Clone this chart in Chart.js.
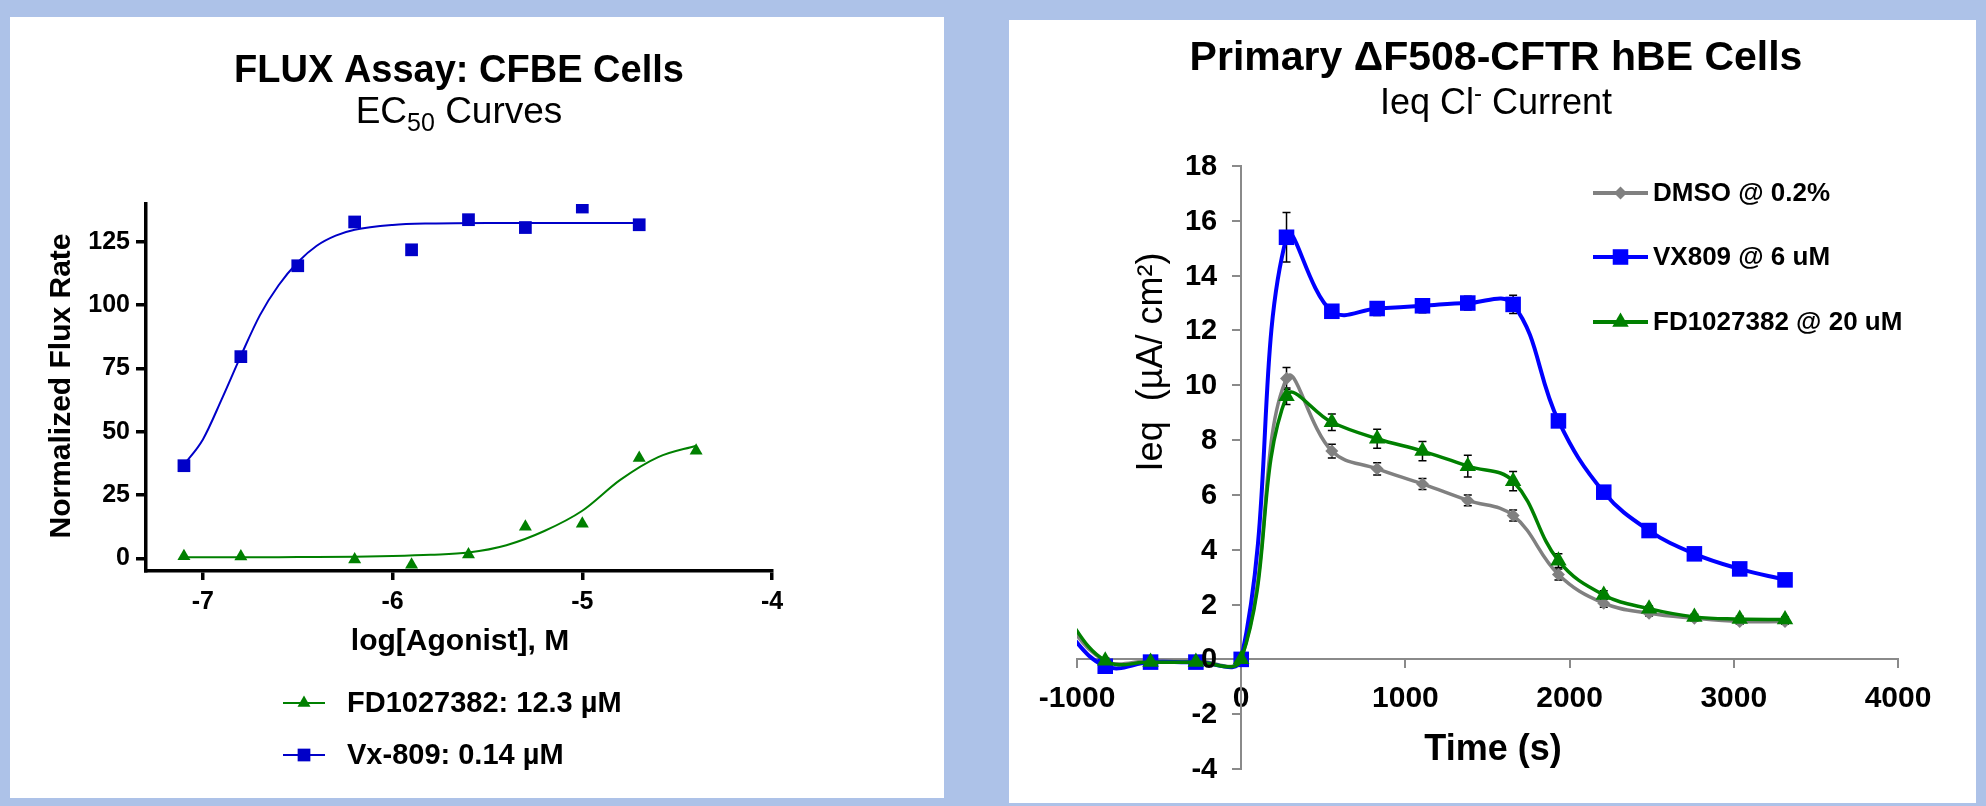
<!DOCTYPE html>
<html>
<head>
<meta charset="utf-8">
<script src="https://cdn.jsdelivr.net/npm/chart.js@4.4.0/dist/chart.umd.min.js"></script>
<style>
  html, body { margin: 0; padding: 0; }
  body { width: 1986px; height: 806px; background: #adc2e8; position: relative; overflow: hidden; }
  .panel { position: absolute; background: #fff; }
  #panelFlux { left: 10px; top: 17px; width: 934px; height: 781px; }
  #panelIeq { left: 1009px; top: 20px; width: 967px; height: 783px; }
  canvas { display: block; }
</style>
</head>
<body>
<div class="panel" id="panelFlux"><canvas id="fluxChart" width="934" height="781"></canvas></div>
<div class="panel" id="panelIeq"><canvas id="ieqChart" width="967" height="783"></canvas></div>
<script>
// ---- left panel: FLUX assay ----
const fluxTicksX = [-7, -6, -5, -4];
const fluxTicksY = [0, 25, 50, 75, 100, 125];
const vxLogConc = [-7.1, -6.8, -6.5, -6.2, -5.9, -5.6, -5.3, -5.0, -4.7];
const vxFlux = [36.6, 79.7, 115.6, 132.9, 121.9, 133.8, 130.7, 138.8, 131.8];
const fdLogConc = [-7.1, -6.8, -6.2, -5.9, -5.6, -5.3, -5.0, -4.7, -4.4];
const fdFlux = [0.8, 0.7, -0.5, -2.5, 1.5, 12.5, 13.7, 39.6, 42.5];
// fitted curves
const vxFitX = [-7.1, -7.0, -6.9, -6.8, -6.7, -6.6, -6.5, -6.4, -6.3, -6.2, -6.0, -5.8, -5.5, -5.0, -4.7];
const vxFitY = [37, 47, 63, 80, 96, 108, 117, 123.5, 127.5, 129.8, 131.7, 132.3, 132.5, 132.5, 132.5];
const fdFitX = [-7.1, -6.8, -6.5, -6.2, -6.0, -5.8, -5.6, -5.4, -5.2, -5.0, -4.8, -4.6, -4.4];
const fdFitY = [0.4, 0.4, 0.5, 0.6, 0.9, 1.4, 2.3, 5.2, 10.8, 18.8, 31, 40, 44.5];

// ---- right panel: Ieq current ----
const timeS = [-1104, -828, -552, -276, 0, 276, 552, 828, 1104, 1380, 1656, 1932, 2208, 2484, 2760, 3036, 3312];
const dmsoIeq = [1.6, -0.05, -0.05, -0.05, 0, 10.25, 7.6, 6.95, 6.4, 5.8, 5.25, 3.1, 2.05, 1.68, 1.5, 1.38, 1.38];
const vx809Ieq = [1.3, -0.25, -0.1, -0.1, 0, 15.4, 12.7, 12.8, 12.9, 13.0, 12.95, 8.7, 6.1, 4.7, 3.85, 3.3, 2.9];
const fdIeq = [1.9, -0.05, -0.1, -0.1, 0, 9.6, 8.65, 8.05, 7.6, 7.05, 6.5, 3.6, 2.35, 1.85, 1.55, 1.47, 1.45];
const dmsoErr = [0, 0.1, 0.1, 0.1, 0.1, 0.4, 0.25, 0.22, 0.2, 0.2, 0.2, 0.2, 0.15, 0.1, 0.1, 0.1, 0.1];
const vx809Err = [0, 0.1, 0.1, 0.1, 0.1, 0.9, 0.2, 0.25, 0.25, 0.25, 0.33, 0.2, 0.15, 0.1, 0.1, 0.1, 0.1];
const fdErr = [0, 0.1, 0.1, 0.1, 0.1, 0.3, 0.3, 0.35, 0.35, 0.4, 0.35, 0.25, 0.15, 0.1, 0.1, 0.1, 0.1];
const timeTicks = [-1000, 0, 1000, 2000, 3000, 4000];
const ieqTicks = [-4, -2, 0, 2, 4, 6, 8, 10, 12, 14, 16, 18];

const FONT = '"Liberation Sans", Arial, sans-serif';
Chart.defaults.font.family = FONT;

function pts(xs, ys) {
    return xs.map((x, i) => ({ x: x, y: ys[i] }));
}

// draw a run of text pieces centered on cx (pieces: [text, font, dy])
function drawRuns(ctx, cx, baseline, runs) {
    let total = 0;
    runs.forEach(r => { ctx.font = r[1]; total += ctx.measureText(r[0]).width; });
    ctx.save();
    ctx.textAlign = 'left';
    ctx.textBaseline = 'alphabetic';
    ctx.fillStyle = '#000';
    let x = cx - total / 2;
    runs.forEach(r => {
        ctx.font = r[1];
        ctx.fillText(r[0], x, baseline + (r[2] || 0));
        x += ctx.measureText(r[0]).width;
    });
    ctx.restore();
}

function legendRow(ctx, x1, x2, gap, y, color, lineW, style, radius, label, font) {
    ctx.save();
    ctx.strokeStyle = color;
    ctx.lineWidth = lineW;
    ctx.beginPath();
    ctx.moveTo(x1, y);
    ctx.lineTo(x2, y);
    ctx.stroke();
    ctx.fillStyle = color;
    Chart.helpers.drawPoint(ctx, { pointStyle: style, radius: radius, rotation: 0, borderWidth: 0 }, (x1 + x2) / 2, y);
    ctx.fillStyle = '#000';
    ctx.font = font;
    ctx.textAlign = 'left';
    ctx.textBaseline = 'middle';
    ctx.fillText(label, x2 + gap, y + 1);
    ctx.restore();
}

const fluxText = {
    id: 'fluxText',
    afterDraw(chart) {
        const ctx = chart.ctx;
        drawRuns(ctx, 449, 65, [['FLUX Assay: CFBE Cells', 'bold 38px ' + FONT]]);
        drawRuns(ctx, 449, 106, [['EC', '37px ' + FONT], ['50', '25px ' + FONT, 8], [' Curves', '37px ' + FONT]]);
        drawRuns(ctx, 450, 633, [['log[Agonist], M', 'bold 30px ' + FONT]]);
        ctx.save();
        ctx.translate(60, 369);
        ctx.rotate(-Math.PI / 2);
        drawRuns(ctx, 0, 0, [['Normalized Flux Rate', 'bold 30px ' + FONT]]);
        ctx.restore();
        legendRow(ctx, 273, 315, 22, 686, '#008000', 2, 'triangle', 7.5, 'FD1027382: 12.3 \u00b5M', 'bold 29px ' + FONT);
        legendRow(ctx, 273, 315, 22, 738, '#0000c8', 2, 'rect', 9, 'Vx-809: 0.14 \u00b5M', 'bold 29px ' + FONT);
    }
};

new Chart(document.getElementById('fluxChart'), {
    type: 'line',
    data: {
        datasets: [
            { data: pts(fdLogConc, fdFlux), showLine: false, pointStyle: 'triangle', pointRadius: 7.5, backgroundColor: '#008000', borderColor: '#008000', borderWidth: 0, order: 0 },
            { data: pts(vxLogConc, vxFlux), showLine: false, pointStyle: 'rect', pointRadius: 9, backgroundColor: '#0000c8', borderColor: '#0000c8', borderWidth: 0, order: 0 },
            { data: pts(fdFitX, fdFitY), pointRadius: 0, borderColor: '#008000', borderWidth: 2, cubicInterpolationMode: 'monotone', order: 1 },
            { data: pts(vxFitX, vxFitY), pointRadius: 0, borderColor: '#0000c8', borderWidth: 2, cubicInterpolationMode: 'monotone', order: 1 }
        ]
    },
    options: {
        responsive: false,
        animation: false,
        devicePixelRatio: 1,
        layout: { padding: { left: 56, top: 187, right: 172, bottom: 167 } },
        plugins: { legend: { display: false }, tooltip: { enabled: false } },
        scales: {
            x: {
                type: 'linear', position: 'bottom', min: -7.3, max: -4,
                afterBuildTicks: s => { s.ticks = fluxTicksX.map(v => ({ value: v })); },
                afterFit: s => { s.height = 60; },
                grid: { drawOnChartArea: false, tickLength: 9, lineWidth: 3.5, color: '#000' },
                border: { width: 3.5, color: '#000' },
                ticks: { font: { size: 25, weight: 'bold' }, color: '#000', padding: 7, maxRotation: 0, autoSkip: false, callback: v => String(v) }
            },
            y: {
                type: 'linear', position: 'left', min: -5, max: 140,
                afterBuildTicks: s => { s.ticks = fluxTicksY.map(v => ({ value: v })); },
                afterFit: s => { s.width = 80; },
                grid: { drawOnChartArea: false, tickLength: 10, lineWidth: 3.5, color: '#000' },
                border: { width: 3.5, color: '#000' },
                ticks: { font: { size: 25, weight: 'bold' }, color: '#000', padding: 6, autoSkip: false, callback: v => String(v) }
            }
        }
    },
    plugins: [fluxText]
});

const ieqErrors = [fdErr, vx809Err, dmsoErr];

const errorBars = {
    id: 'errorBars',
    beforeDatasetsDraw(chart) {
        const ctx = chart.ctx, xs = chart.scales.x, ys = chart.scales.y, a = chart.chartArea;
        ctx.save();
        ctx.beginPath();
        ctx.rect(a.left, a.top, a.right - a.left, a.bottom - a.top);
        ctx.clip();
        ctx.strokeStyle = '#000';
        ctx.lineWidth = 1.5;
        chart.data.datasets.forEach((ds, d) => {
            ieqErrors[d].forEach((e, i) => {
                if (!e) return;
                const p = ds.data[i];
                const px = xs.getPixelForValue(p.x);
                const yt = ys.getPixelForValue(p.y + e);
                const yb = ys.getPixelForValue(p.y - e);
                ctx.beginPath();
                ctx.moveTo(px, yt); ctx.lineTo(px, yb);
                ctx.moveTo(px - 4, yt); ctx.lineTo(px + 4, yt);
                ctx.moveTo(px - 4, yb); ctx.lineTo(px + 4, yb);
                ctx.stroke();
            });
        });
        ctx.restore();
    }
};

const ieqText = {
    id: 'ieqText',
    afterDraw(chart) {
        const ctx = chart.ctx;
        const ys = chart.scales.y;
        const axisX = chart.scales.x.getPixelForValue(0);
        // y tick labels sit left of the crossing axis
        ctx.save();
        ctx.font = 'bold 29px ' + FONT;
        ctx.fillStyle = '#000';
        ctx.textAlign = 'right';
        ctx.textBaseline = 'middle';
        ieqTicks.forEach(v => ctx.fillText(String(v), axisX - 24, ys.getPixelForValue(v) + 1));
        ctx.restore();

        drawRuns(ctx, 487, 50, [['Primary \u0394F508-CFTR hBE Cells', 'bold 41px ' + FONT]]);
        drawRuns(ctx, 487, 94, [['Ieq Cl', '36px ' + FONT], ['-', '24px ' + FONT, -13], [' Current', '36px ' + FONT]]);
        drawRuns(ctx, 484, 740, [['Time (s)', 'bold 36px ' + FONT]]);
        ctx.save();
        ctx.translate(153, 342);
        ctx.rotate(-Math.PI / 2);
        drawRuns(ctx, 0, 0, [['Ieq  (\u00b5A/ cm\u00b2)', '36px ' + FONT]]);
        ctx.restore();
        legendRow(ctx, 584, 639, 5, 173, '#808080', 4, 'rectRot', 6.5, 'DMSO @ 0.2%', 'bold 26px ' + FONT);
        legendRow(ctx, 584, 639, 5, 237, '#0000ff', 4, 'rect', 11, 'VX809 @ 6 uM', 'bold 26px ' + FONT);
        legendRow(ctx, 584, 639, 5, 302, '#008000', 4, 'triangle', 9.5, 'FD1027382 @ 20 uM', 'bold 26px ' + FONT);
    }
};

new Chart(document.getElementById('ieqChart'), {
    type: 'line',
    data: {
        datasets: [
            { label: 'FD1027382 @ 20 uM', data: pts(timeS, fdIeq), borderColor: '#008000', backgroundColor: '#008000', borderWidth: 3.5, pointStyle: 'triangle', pointRadius: 9.5, pointBorderWidth: 0, tension: 0.4, clip: 0, order: 0 },
            { label: 'VX809 @ 6 uM', data: pts(timeS, vx809Ieq), borderColor: '#0000ff', backgroundColor: '#0000ff', borderWidth: 4, pointStyle: 'rect', pointRadius: 11, pointBorderWidth: 0, tension: 0.4, clip: 0, order: 1 },
            { label: 'DMSO @ 0.2%', data: pts(timeS, dmsoIeq), borderColor: '#808080', backgroundColor: '#808080', borderWidth: 3.5, pointStyle: 'rectRot', pointRadius: 6.5, pointBorderWidth: 0, tension: 0.4, clip: 0, order: 2 }
        ]
    },
    options: {
        responsive: false,
        animation: false,
        devicePixelRatio: 1,
        layout: { padding: { left: 68, top: 146, right: 78, bottom: 34 } },
        plugins: { legend: { display: false }, tooltip: { enabled: false } },
        scales: {
            x: {
                type: 'linear', position: { y: 0 }, min: -1000, max: 4000,
                afterBuildTicks: s => { s.ticks = timeTicks.map(v => ({ value: v })); },
                grid: { drawOnChartArea: false, tickLength: 8, lineWidth: 2, color: '#8a8a8a' },
                border: { width: 2, color: '#8a8a8a' },
                ticks: { font: { size: 30, weight: 'bold' }, color: '#000', padding: 13, maxRotation: 0, autoSkip: false, callback: v => String(v) }
            },
            y: {
                type: 'linear', position: { x: 0 }, min: -4, max: 18,
                afterBuildTicks: s => { s.ticks = ieqTicks.map(v => ({ value: v })); },
                grid: { drawOnChartArea: false, tickLength: 8, lineWidth: 2, color: '#8a8a8a' },
                border: { width: 2, color: '#8a8a8a' },
                ticks: { display: false }
            }
        }
    },
    plugins: [errorBars, ieqText]
});
</script>
</body>
</html>
